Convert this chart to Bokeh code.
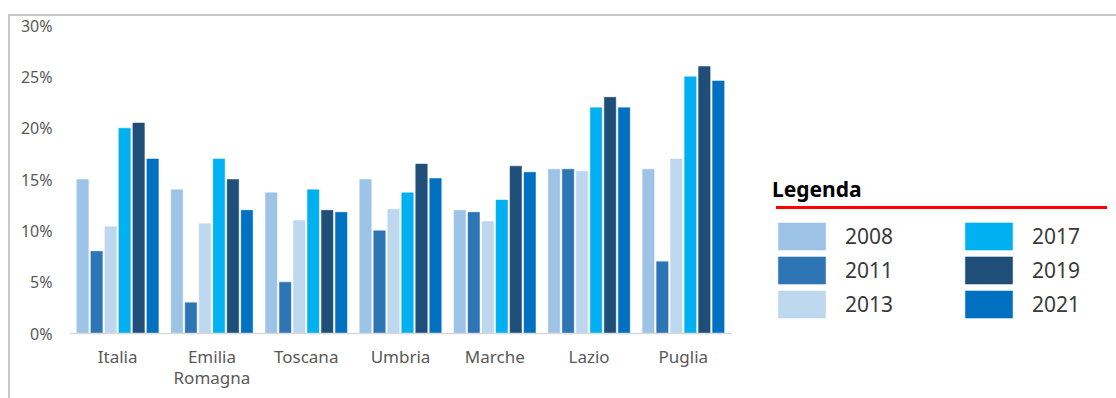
from bokeh.plotting import figure
from bokeh.layouts import row
from bokeh.models import (ColumnDataSource, FactorRange, FixedTicker, PrintfTickFormatter,
                          Legend, LegendItem, InlineStyleSheet, Range1d)
from bokeh.transform import dodge
from bokeh.embed import file_html
from bokeh.resources import INLINE

regions = ["Italia", "Emilia\nRomagna", "Toscana", "Umbria", "Marche", "Lazio", "Puglia"]
years = ["2008", "2011", "2013", "2017", "2019", "2021"]
v2008 = [15.0, 14.0, 13.7, 15.0, 12.0, 16.0, 16.0]
v2011 = [8.0, 3.0, 5.0, 10.0, 11.8, 16.0, 7.0]
v2013 = [10.4, 10.7, 11.0, 12.1, 10.9, 15.8, 17.0]
v2017 = [20.0, 17.0, 14.0, 13.7, 13.0, 22.0, 25.0]
v2019 = [20.5, 15.0, 12.0, 16.5, 16.3, 23.0, 26.0]
v2021 = [17.0, 12.0, 11.8, 15.1, 15.7, 22.0, 24.6]
y_ticks = [0, 5, 10, 15, 20, 25, 30]

colors = ["#9DC3E6", "#2E75B6", "#BDD7EE", "#00B0F0", "#1F4E79", "#0070C0"]
series = [v2008, v2011, v2013, v2017, v2019, v2021]

data = {"region": regions}
for y, s in zip(years, series):
    data["y" + y] = s
source = ColumnDataSource(data)

FONT = "Noto Sans"

# ---------------- chart ----------------
p = figure(width=730, height=398, x_range=FactorRange(factors=regions, range_padding=0),
           y_range=(0, 30), output_backend="svg", toolbar_location=None,
           min_border_left=70, min_border_right=0, min_border_top=25, min_border_bottom=65)
p.outline_line_color = None
p.xgrid.grid_line_color = None
p.ygrid.grid_line_color = None
p.background_fill_color = "white"
p.border_fill_color = "white"

pitch = 0.1485
bw = 0.122
for i, (y, c) in enumerate(zip(years, colors)):
    off = (i - 2.5) * pitch
    p.vbar(x=dodge("region", off, range=p.x_range), top="y" + y, width=bw,
           source=source, fill_color=c, line_color=c, line_width=0.5)

p.yaxis.ticker = FixedTicker(ticks=y_ticks)
p.yaxis.formatter = PrintfTickFormatter(format="%d%%")
p.yaxis.axis_line_color = None
p.yaxis.major_tick_line_color = None
p.yaxis.minor_tick_line_color = None
p.yaxis.major_label_standoff = 12
p.yaxis.major_label_text_font = FONT
p.yaxis.major_label_text_font_size = "16px"
p.yaxis.major_label_text_color = "#595959"

p.xaxis.axis_line_color = "#D9D9D9"
p.xaxis.axis_line_width = 1.5
p.xaxis.major_tick_line_color = None
p.xaxis.minor_tick_line_color = None
p.xaxis.major_label_standoff = 5
p.xaxis.major_label_text_font = FONT
p.xaxis.major_label_text_font_size = "17px"
p.xaxis.major_label_text_line_height = 0.95
p.xaxis.major_label_text_color = "#595959"
p.xaxis.major_label_orientation = "horizontal"

# ---------------- legend panel ----------------
q = figure(width=386, height=398, x_range=Range1d(0, 1), y_range=Range1d(0, 1),
           output_backend="svg", toolbar_location=None, min_border=0,
           x_axis_location=None, y_axis_location=None)
q.outline_line_color = None
q.xgrid.grid_line_color = None
q.ygrid.grid_line_color = None
q.border_fill_color = "white"

items = []
for y, c in zip(years, colors):
    # legend swatch renderer, placed outside the visible range
    r = q.vbar(x=[-10], top=[0], width=0.1, fill_color=c, line_color=c, line_width=0.5)
    items.append(LegendItem(label=y, renderers=[r]))

legend = Legend(items=items, location=(42, 12.5), orientation="vertical", nrows=3,
                title="Legenda", title_text_font=FONT, title_text_font_size="21px",
                title_text_font_style="bold", title_text_color="#000000", title_standoff=16,
                label_text_font=FONT, label_text_font_size="21px", label_text_color="#3A3A3A",
                glyph_width=59, glyph_height=34, label_standoff=14, spacing=0,
                label_width=114, padding=0, margin=0, border_line_color=None,
                background_fill_alpha=0)
q.add_layout(legend, "center")

layout = row(p, q)
layout.stylesheets = [InlineStyleSheet(css="""
:host { position: relative; }
:host::before { content: ""; position: absolute; left: 776px; top: 206px; width: 331px;
  height: 3px; background: #FF0000; z-index: 10; pointer-events: none; }
:host::after { content: ""; position: absolute; left: 8px; top: 14px; right: 0px; bottom: 0px;
  box-sizing: border-box; border-left: 2px solid #C8C8C8; border-top: 2px solid #C8C8C8;
  z-index: 10; pointer-events: none; }
""")]

open("out.html", "w").write(file_html(layout, INLINE))
